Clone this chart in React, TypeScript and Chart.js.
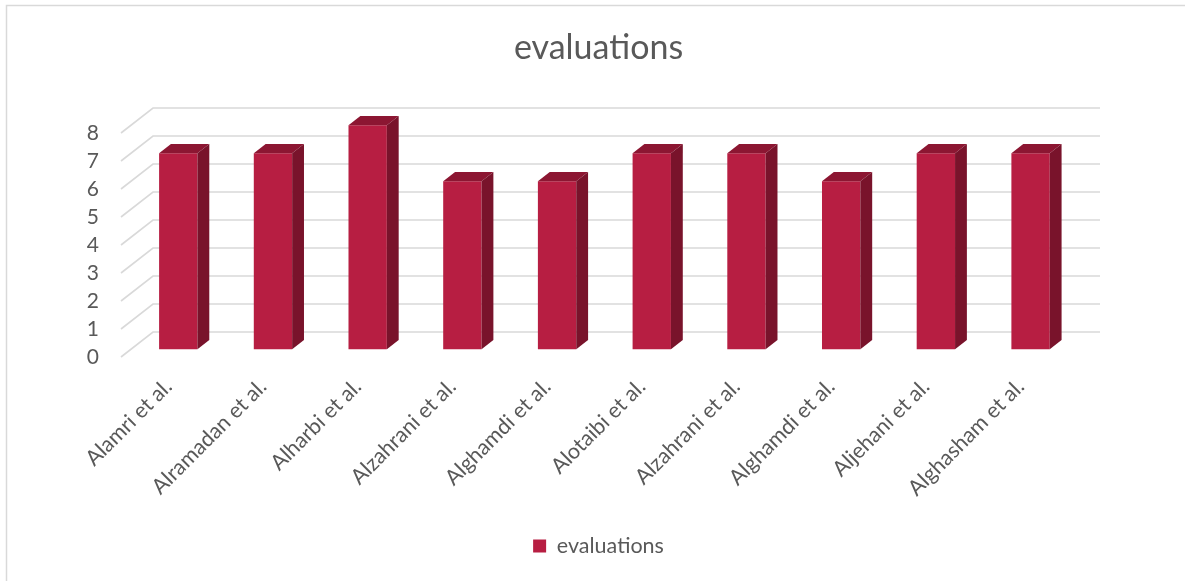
import React, { useEffect, useRef } from "react";
import { Chart, registerables } from "chart.js";

Chart.register(...registerables);

// Studies and their evaluation scores
const categories = [
  "Alamri et al.",
  "Alramadan et al.",
  "Alharbi et al.",
  "Alzahrani et al.",
  "Alghamdi et al.",
  "Alotaibi et al.",
  "Alzahrani et al.",
  "Alghamdi et al.",
  "Aljehani et al.",
  "Alghasham et al.",
];
const evaluations = [7, 7, 8, 6, 6, 7, 7, 6, 7, 7];
const seriesName = "evaluations";
const yMin = 0;
const yMax = 8;
const yStep = 1;

const FONT = "Lato, 'Open Sans', sans-serif";
const TEXT = "#595959";
const GRID = "#d9d9d9";
const FRONT = "#b71e42";
const TOP = "#8c1632";
const SIDE = "#79132b";

// Floor depth of the 3D plot box, and where the bars sit inside it
const DEPTH_X = 32;
const DEPTH_Y = 25;
const BAR_NEAR = 0.31;
const BAR_FAR = 0.68;

// Fixed frame of the plot area
const PLOT_BOTTOM = 357;
const PAD_BOTTOM = 14.25;

const depthPlugin = {
  id: "depth3d",
  beforeDraw(chart: any) {
    const { ctx, width, height } = chart;
    ctx.save();
    ctx.strokeStyle = GRID;
    ctx.lineWidth = 1.5;
    ctx.beginPath();
    ctx.moveTo(6.5, height);
    ctx.lineTo(6.5, 5.5);
    ctx.lineTo(width, 5.5);
    ctx.stroke();
    ctx.restore();
  },
  beforeDatasetsDraw(chart: any) {
    const { ctx, chartArea, scales } = chart;
    const y = scales.y;
    ctx.save();
    ctx.strokeStyle = GRID;
    ctx.lineWidth = 1.6;
    y.ticks.forEach((t: any) => {
      const py = y.getPixelForValue(t.value);
      ctx.beginPath();
      ctx.moveTo(chartArea.left, py);
      ctx.lineTo(chartArea.left + DEPTH_X, py - DEPTH_Y);
      ctx.lineTo(chartArea.right + DEPTH_X, py - DEPTH_Y);
      ctx.stroke();
    });
    ctx.restore();
    // bars' front faces sit part-way into the depth
    ctx.save();
    ctx.translate(BAR_NEAR * DEPTH_X, -BAR_NEAR * DEPTH_Y);
  },
  afterDatasetsDraw(chart: any) {
    const { ctx } = chart;
    ctx.restore();
    const ox = BAR_NEAR * DEPTH_X;
    const oy = BAR_NEAR * DEPTH_Y;
    const dx = (BAR_FAR - BAR_NEAR) * DEPTH_X;
    const dy = (BAR_FAR - BAR_NEAR) * DEPTH_Y;
    ctx.save();
    chart.getDatasetMeta(0).data.forEach((bar: any) => {
      const { x, y, base, width } = bar.getProps(["x", "y", "base", "width"], true);
      const l = x - width / 2 + ox;
      const r = x + width / 2 + ox;
      const t = y - oy;
      const b = base - oy;
      ctx.fillStyle = TOP;
      ctx.beginPath();
      ctx.moveTo(l, t);
      ctx.lineTo(r, t);
      ctx.lineTo(r + dx, t - dy);
      ctx.lineTo(l + dx, t - dy);
      ctx.closePath();
      ctx.fill();
      ctx.fillStyle = SIDE;
      ctx.beginPath();
      ctx.moveTo(r, t);
      ctx.lineTo(r + dx, t - dy);
      ctx.lineTo(r + dx, b - dy);
      ctx.lineTo(r, b);
      ctx.closePath();
      ctx.fill();
    });
    ctx.restore();
  },
};

export default function App() {
  const canvasRef = useRef<HTMLCanvasElement | null>(null);

  useEffect(() => {
    const canvas = canvasRef.current;
    if (!canvas) return;
    const chart = new Chart(canvas, {
      type: "bar",
      data: {
        labels: categories,
        datasets: [
          {
            label: seriesName,
            data: evaluations,
            backgroundColor: FRONT,
            borderWidth: 0,
            barPercentage: 0.405,
            categoryPercentage: 1,
            clip: false,
          } as any,
        ],
      },
      options: {
        responsive: false,
        animation: false,
        layout: { padding: { left: 12, right: 0, top: 0, bottom: PAD_BOTTOM } },
        plugins: {
          title: {
            display: true,
            text: seriesName,
            color: TEXT,
            font: { family: FONT, size: 34, weight: "normal" },
            padding: { top: 27.6, bottom: 64.6 },
          },
          legend: {
            position: "bottom",
            labels: {
              boxWidth: 13,
              boxHeight: 13,
              color: TEXT,
              font: { family: FONT, size: 21.5 },
              padding: 10,
            },
          },
          tooltip: { enabled: false },
        },
        scales: {
          x: {
            grid: { display: false, drawTicks: false },
            border: { display: false },
            ticks: {
              color: TEXT,
              font: { family: FONT, size: 21.5 },
              minRotation: 45,
              maxRotation: 45,
              autoSkip: false,
              padding: 17,
            },
            afterFit: (s: any) => {
              const lh = s.chart.legend ? s.chart.legend.height : 41.5;
              s.height = s.chart.height - PAD_BOTTOM - lh - PLOT_BOTTOM;
            },
          },
          y: {
            min: yMin,
            max: yMax,
            grid: { display: false, drawTicks: false },
            border: { display: false },
            ticks: {
              stepSize: yStep,
              autoSkip: false,
              color: TEXT,
              font: { family: FONT, size: 21 },
              padding: 22,
            },
            afterFit: (s: any) => {
              s.width = 109;
            },
          },
          // empty right-hand margin beside the back wall
          yRight: {
            position: "right",
            min: yMin,
            max: yMax,
            grid: { display: false, drawTicks: false },
            border: { display: false },
            ticks: { display: false },
            afterFit: (s: any) => {
              s.width = 117;
            },
          },
        },
      },
      plugins: [depthPlugin],
    });
    return () => chart.destroy();
  }, []);

  return (
    <div style={{ position: "fixed", left: 0, top: 0, width: 1185, height: 581, background: "#fff" }}>
      <canvas ref={canvasRef} width={1185} height={581} />
    </div>
  );
}
